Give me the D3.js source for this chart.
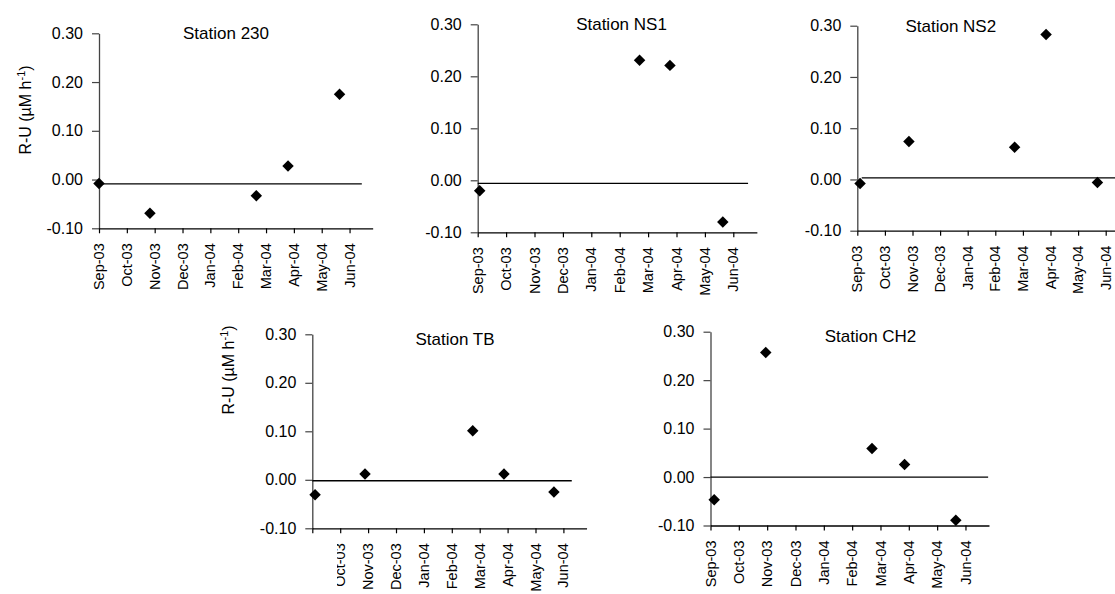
<!DOCTYPE html>
<html>
<head>
<meta charset="utf-8">
<script src="https://cdn.jsdelivr.net/npm/d3@7"></script>
<style>
  html, body { margin: 0; padding: 0; background: #fff; }
  svg { display: block; font-family: Arial, "Liberation Sans", sans-serif; }
</style>
</head>
<body>
<svg id="chart" width="1115" height="594"></svg>
<script>
// ---------- data ----------
const monthLabels = ["Sep-03","Oct-03","Nov-03","Dec-03","Jan-04","Feb-04","Mar-04","Apr-04","May-04","Jun-04"];
const yTickValues = [-0.10, 0.00, 0.10, 0.20, 0.30];
const stationNames = ["Station 230","Station NS1","Station NS2","Station TB","Station CH2"];
const yAxisTitle = "R-U (\u00B5M h";

// sampling time, in months after Sep-03
const month230 = [0.00, 1.83, 5.65, 6.79, 8.64];
const ru230    = [-0.008, -0.069, -0.033, 0.028, 0.175];
const monthNS1 = [0.07, 5.70, 6.77, 8.63];
const ruNS1    = [-0.020, 0.231, 0.221, -0.080];
const monthNS2 = [0.10, 1.87, 5.70, 6.84, 8.70];
const ruNS2    = [-0.008, 0.074, 0.063, 0.283, -0.006];
const monthTB  = [0.10, 1.89, 5.75, 6.87, 8.66];
const ruTB     = [-0.031, 0.012, 0.101, 0.012, -0.025];
const monthCH2 = [0.13, 1.95, 5.70, 6.85, 8.66];
const ruCH2    = [-0.047, 0.257, 0.059, 0.026, -0.089];

// horizontal reference line of each panel
const refValue = [-0.009, -0.006, 0.003, -0.002, 0.000];
const refStart = [0.00, 0.00, 0.16, 0.00, 0.00];
const refEnd   = [9.44, 9.52, 9.83, 9.30, 9.80];

const monthSeries = [month230, monthNS1, monthNS2, monthTB, monthCH2];
const ruSeries = [ru230, ruNS1, ruNS2, ruTB, ruCH2];

// ---------- layout (pixel positions of each panel) ----------
const layout = [
  {x0: 99.0,  mw: 27.84, top: 33.3,  bot: 228.3, title: [226, 38.5],  ylab: [31, 110]},
  {x0: 477.7, mw: 28.40, top: 24.3,  bot: 232.3, title: [621.5, 30]},
  {x0: 857.3, mw: 27.60, top: 25.7,  bot: 230.7, title: [950.8, 31.7]},
  {x0: 312.3, mw: 27.90, top: 334.3, bot: 528.3, title: [455, 345],   ylab: [234, 370], clipLabels: 337},
  {x0: 710.5, mw: 28.33, top: 331.7, bot: 525.5, title: [870.5, 342.3]}
];
const xDomainEnd = 9.83;

const svg = d3.select("#chart");
const defs = svg.append("defs");

stationNames.forEach((name, i) => {
  const L = layout[i];
  const g = svg.append("g").attr("class", "panel");
  const x = d3.scaleLinear().domain([0, xDomainEnd]).range([L.x0, L.x0 + L.mw * xDomainEnd]);
  const y = d3.scaleLinear().domain([-0.10, 0.30]).range([L.bot, L.top]);

  // y axis
  const ya = g.append("g")
    .attr("transform", `translate(${L.x0},0)`)
    .call(d3.axisLeft(y).tickValues(yTickValues).tickFormat(d => d.toFixed(2))
      .tickSize(7).tickSizeOuter(0).tickPadding(9));
  ya.select(".domain").attr("stroke", "#444").attr("stroke-width", 1.3);
  ya.selectAll(".tick line").attr("stroke", "#444").attr("stroke-width", 1.2);
  ya.selectAll(".tick text").attr("font-size", 16).attr("fill", "#000")
    .attr("font-family", "Arial, 'Liberation Sans', sans-serif");

  // x axis
  const xa = g.append("g")
    .attr("transform", `translate(0,${L.bot})`)
    .call(d3.axisBottom(x).tickValues(d3.range(monthLabels.length)).tickFormat("")
      .tickSize(5).tickSizeOuter(0));
  xa.select(".domain").attr("stroke", "#000").attr("stroke-width", 1.3);
  xa.selectAll(".tick line").attr("stroke", "#000").attr("stroke-width", 1.2);

  // x tick labels (rotated)
  const lab = g.append("g");
  if (L.clipLabels) {
    const id = "clip" + i;
    defs.append("clipPath").attr("id", id).append("rect")
      .attr("x", L.clipLabels).attr("y", 0).attr("width", 1115).attr("height", 594);
    lab.attr("clip-path", `url(#${id})`);
  }
  lab.selectAll("text").data(monthLabels).join("text")
    .attr("transform", (d, k) => `translate(${x(k)},${L.bot}) rotate(-90)`)
    .attr("x", -15).attr("dy", "0.35em")
    .attr("text-anchor", "end")
    .attr("font-size", 14.5).attr("fill", "#000")
    .text(d => d);

  // reference line
  g.append("line")
    .attr("x1", x(refStart[i])).attr("x2", x(refEnd[i]))
    .attr("y1", y(refValue[i])).attr("y2", y(refValue[i]))
    .attr("stroke", "#000").attr("stroke-width", 1.3);

  // points
  const pts = monthSeries[i].map((m, k) => ({m, v: ruSeries[i][k]}));
  g.selectAll("path.pt").data(pts).join("path")
    .attr("class", "pt")
    .attr("d", d3.symbol().type(d3.symbolSquare).size(66))
    .attr("transform", d => `translate(${x(d.m)},${y(d.v)}) rotate(45)`)
    .attr("fill", "#000");

  // title
  g.append("text")
    .attr("x", L.title[0]).attr("y", L.title[1])
    .attr("text-anchor", "middle").attr("font-size", 17).attr("fill", "#000")
    .text(name);

  // y-axis title
  if (L.ylab) {
    const t = g.append("text")
      .attr("transform", `translate(${L.ylab[0]},${L.ylab[1]}) rotate(-90)`)
      .attr("text-anchor", "middle").attr("font-size", 16).attr("fill", "#000");
    t.append("tspan").text(yAxisTitle);
    t.append("tspan").attr("font-size", 11).attr("dy", -6).text("-1");
    t.append("tspan").attr("dy", 6).text(")");
  }
});
</script>
</body>
</html>
